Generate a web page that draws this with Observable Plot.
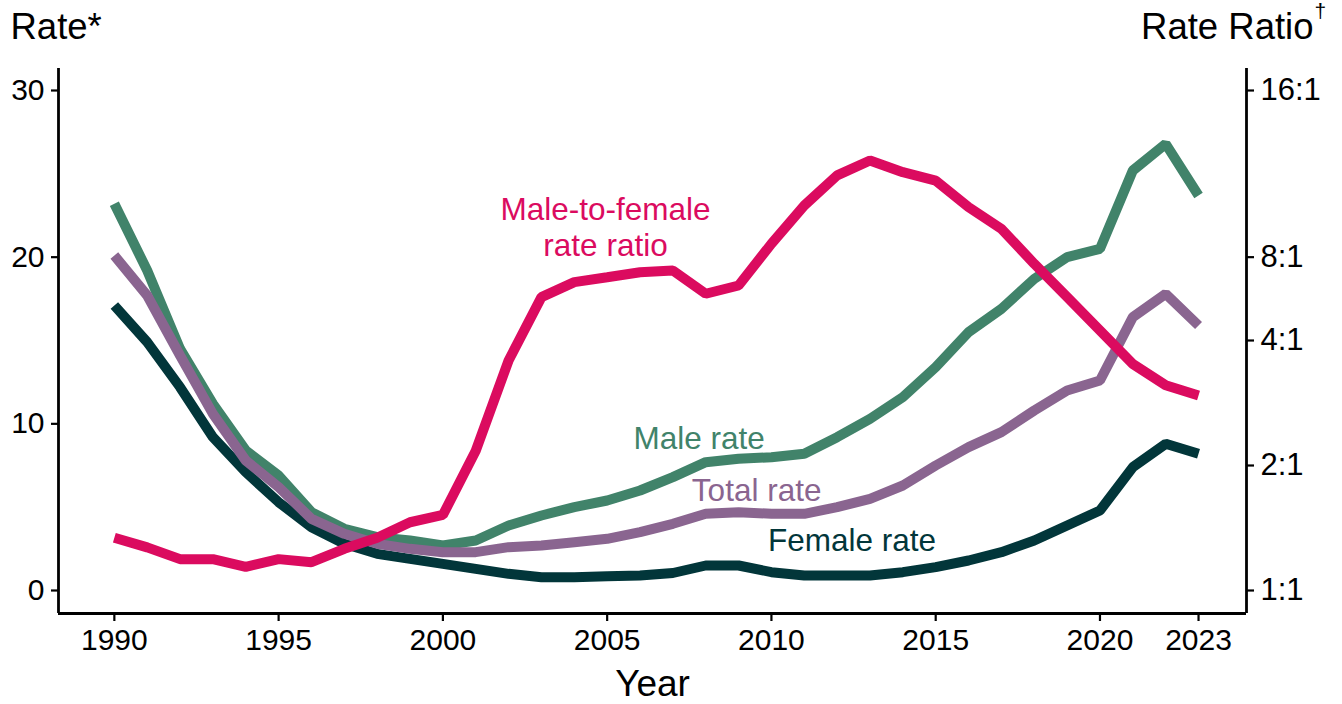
<!DOCTYPE html>
<html>
<head>
<meta charset="utf-8">
<script src="https://cdn.jsdelivr.net/npm/d3@7"></script>
<script src="https://cdn.jsdelivr.net/npm/@observablehq/plot@0.6"></script>
<style>
  html, body { margin: 0; padding: 0; background: #ffffff; }
  #chart svg { display: block; }
</style>
</head>
<body>
<div id="chart"></div>
<script>
// ---- Data ----
const years = [1990, 1991, 1992, 1993, 1994, 1995, 1996, 1997, 1998, 1999,
               2000, 2001, 2002, 2003, 2004, 2005, 2006, 2007, 2008, 2009,
               2010, 2011, 2012, 2013, 2014, 2015, 2016, 2017, 2018, 2019,
               2020, 2021, 2022, 2023];

const maleRate = [23.2, 19.2, 14.5, 11.2, 8.4, 6.9, 4.7, 3.7, 3.2, 3.0,
                  2.7, 3.0, 3.9, 4.5, 5.0, 5.4, 6.0, 6.8, 7.7, 7.9,
                  8.0, 8.2, 9.2, 10.3, 11.6, 13.4, 15.5, 16.9, 18.7, 20.0,
                  20.5, 25.2, 26.8, 23.7];

const totalRate = [20.1, 17.7, 14.1, 10.6, 7.8, 6.2, 4.3, 3.4, 2.8, 2.5,
                   2.3, 2.3, 2.6, 2.7, 2.9, 3.1, 3.5, 4.0, 4.6, 4.7,
                   4.6, 4.6, 5.0, 5.5, 6.3, 7.5, 8.6, 9.5, 10.8, 12.0,
                   12.6, 16.4, 17.8, 15.9];

const femaleRate = [17.1, 14.9, 12.2, 9.2, 7.1, 5.3, 3.8, 2.8, 2.2, 1.9,
                    1.6, 1.3, 1.0, 0.8, 0.8, 0.85, 0.9, 1.05, 1.5, 1.5,
                    1.1, 0.9, 0.9, 0.9, 1.1, 1.4, 1.8, 2.3, 3.0, 3.9,
                    4.8, 7.4, 8.8, 8.2];

// male-to-female rate ratio (x:1)
const rateRatio = [1.34, 1.27, 1.19, 1.19, 1.14, 1.19, 1.17, 1.26, 1.34, 1.46,
                   1.52, 2.17, 3.58, 5.74, 6.5, 6.77, 7.06, 7.16, 5.9, 6.32,
                   8.46, 9.92, 11.24, 11.96, 11.39, 11.0, 9.85, 9.0, 7.57, 5.74,
                   4.35, 3.51, 3.12, 2.95];

const xTicks = [1990, 1995, 2000, 2005, 2010, 2015, 2020, 2023];
const leftTicks = [0, 10, 20, 30];
const ratioTicks = [1, 2, 4, 8, 16];
const ratioTickLabels = ["1:1", "2:1", "4:1", "8:1", "16:1"];

const seriesNames = ["Female rate", "Male rate", "Total rate", "Male-to-female rate ratio"];
const seriesColors = ["#02363a", "#41836a", "#8a6590", "#db0b5f"];

// in-chart series labels: anchor (year, rate units)
const labelText = ["Male-to-female", "rate ratio", "Male rate", "Total rate", "Female rate"];
const labelYear = [2004.95, 2004.95, 2007.8, 2009.55, 2012.45];
const labelValue = [22.85, 20.7, 9.1, 6.0, 3.0];
const labelColor = ["#db0b5f", "#db0b5f", "#41836a", "#8a6590", "#02363a"];

const xDomain = [1988.3, 2024.46];
const yDomain = [-1.38, 31.32];

// ---- Right-axis mapping: the ratio axis shares the left axis frame ----
const ratioToLeft = d3.scaleLinear().domain([0, 1, 2, 3, 4]).range([0, 7.5, 15, 20, 30]);
const ratioPos = r => ratioToLeft(Math.log2(r));

// ---- Build long table ----
const rows = [];
years.forEach((yr, i) => {
  rows.push({year: yr, value: femaleRate[i], series: seriesNames[0]});
  rows.push({year: yr, value: maleRate[i], series: seriesNames[1]});
  rows.push({year: yr, value: totalRate[i], series: seriesNames[2]});
  rows.push({year: yr, value: ratioPos(rateRatio[i]), series: seriesNames[3]});
});

const labels = labelText.map((t, i) => ({text: t, year: labelYear[i], value: labelValue[i], color: labelColor[i]}));

const rightTickPos = ratioTicks.map(ratioPos);
const rightLabelMap = new Map(rightTickPos.map((p, i) => [p, ratioTickLabels[i]]));

const font = "'Liberation Sans', Arial, Helvetica, sans-serif";

const chart = Plot.plot({
  width: 1342,
  height: 704,
  marginLeft: 58,
  marginRight: 96,
  marginTop: 68,
  marginBottom: 91,
  style: {fontFamily: font, fontSize: "30px", background: "#ffffff", color: "#000000", overflow: "visible"},
  x: {domain: xDomain},
  y: {domain: yDomain},
  color: {domain: seriesNames, range: seriesColors},
  marks: [
    Plot.axisX(xTicks, {anchor: "bottom", tickSize: 8, tickPadding: 7, tickFormat: d => String(d),
      stroke: "#000", strokeWidth: 2.2, label: null, fontSize: 30}),
    Plot.axisY(leftTicks, {anchor: "left", tickSize: 7, tickPadding: 7,
      stroke: "#000", strokeWidth: 2.2, label: null, fontSize: 30}),
    Plot.axisY(rightTickPos, {anchor: "right", tickSize: 7, tickPadding: 7,
      stroke: "#000", strokeWidth: 2.2, label: null, fontSize: 31,
      tickFormat: v => rightLabelMap.get(v)}),
    // axis lines
    Plot.ruleX([xDomain[0]], {stroke: "#000", strokeWidth: 2.8}),
    Plot.ruleX([xDomain[1]], {stroke: "#000", strokeWidth: 2.8}),
    Plot.ruleY([yDomain[0]], {stroke: "#000", strokeWidth: 2.8}),
    Plot.line(rows, {x: "year", y: "value", z: "series", stroke: "series",
      strokeWidth: 10, strokeLinecap: "butt", strokeLinejoin: "miter", curve: "linear"}),
    Plot.text(labels, {x: "year", y: "value", text: "text", fill: "color",
      fontSize: 31.5, textAnchor: "middle"}),
    Plot.text(["Rate*"], {frameAnchor: "top-left", textAnchor: "start", lineAnchor: "top", dx: -48, dy: -55, fontSize: 36.5}),
    Plot.text(["Rate Ratio"], {frameAnchor: "top-right", textAnchor: "end", lineAnchor: "top", dx: 67, dy: -55, fontSize: 36.5}),
    Plot.text(["\u2020"], {frameAnchor: "top-right", textAnchor: "start", lineAnchor: "top", dx: 68, dy: -65, fontSize: 21}),
    Plot.text(["Year"], {frameAnchor: "bottom", textAnchor: "middle", lineAnchor: "middle", dy: 71, fontSize: 37})
  ]
});

document.getElementById("chart").appendChild(chart);
</script>
</body>
</html>
